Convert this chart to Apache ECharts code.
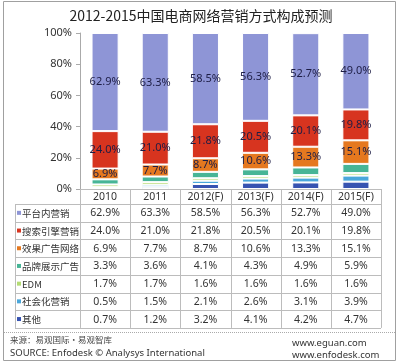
<!DOCTYPE html>
<html><head><meta charset="utf-8">
<script src="https://cdn.jsdelivr.net/npm/echarts@6/dist/echarts.min.js"></script>
<style>html,body{margin:0;padding:0;background:#fff}#c{width:400px;height:364px}</style>
</head><body><div id="c"></div>
<script>
var title = '2012-2015中国电商网络营销方式构成预测';
var categories = ['2010','2011','2012(F)','2013(F)','2014(F)','2015(F)'];
var seriesNames = ['平台内营销','搜索引擎营销','效果广告网络','品牌展示广告','EDM','社会化营销','其他'];
var platform = [62.9,63.3,58.5,56.3,52.7,49.0];
var search = [24.0,21.0,21.8,20.5,20.1,19.8];
var effect = [6.9,7.7,8.7,10.6,13.3,15.1];
var brand = [3.3,3.6,4.1,4.3,4.9,5.9];
var edm = [1.7,1.7,1.6,1.6,1.6,1.6];
var social = [0.5,1.5,2.1,2.6,3.1,3.9];
var other = [0.7,1.2,3.2,4.1,4.2,4.7];
var yTicks = [0,20,40,60,80,100];
var sourceCn = '来源：易观国际·易观智库';
var sourceEn = 'SOURCE: Enfodesk © Analysys International';
var site1 = 'www.eguan.com', site2 = 'www.enfodesk.com';

var values = [platform,search,effect,brand,edm,social,other];
var colors = ['#8e95d6','#d7341f','#e5781f','#47b596','#b4dc74','#4aa7db','#3753b1'];
var labelShown = [true,true,true,false,false,false,false];

var FONT = '"Noto Sans CJK SC","Noto Sans",sans-serif';
var LAT = '"Noto Sans","Noto Sans CJK SC",sans-serif';
var gridL = 80, gridR = 381, gridT = 33, gridB = 189;
var colW = (gridR - gridL) / categories.length;

var series = [];
for (var k = values.length - 1; k >= 0; k--) {
  series.push({
    name: seriesNames[k], type: 'bar', stack: 'all', barWidth: '54%',
    data: values[k],
    itemStyle: {color: colors[k], borderColor: '#fff', borderWidth: 1},
    label: {show: labelShown[k], position: 'inside', color: '#1d1d45', fontSize: 11, fontFamily: LAT,
      formatter: function(p){ return p.value.toFixed(1) + '%'; }},
    silent: true
  });
}

var g = [];
g.push({type:'rect', shape:{x:3.5,y:1.5,width:392,height:359}, style:{fill:'none', stroke:'#a0a0a0', lineWidth:1}, z:0});
g.push({type:'text', x:201, y:16, style:{text:title, fill:'#222', font:'14px '+FONT, textAlign:'center', textVerticalAlign:'middle'}});
var rowTop = 204, rowH = 17.7, nRows = seriesNames.length;
var tblBottom = rowTop + rowH * nRows;
for (var r = 0; r <= nRows; r++) {
  var yy = Math.round(rowTop + r * rowH) + 0.5;
  g.push({type:'line', shape:{x1:15, y1:yy, x2:gridR, y2:yy}, style:{stroke:'#bcbcbc', lineWidth:1}});
}
g.push({type:'line', shape:{x1:15.5, y1:rowTop, x2:15.5, y2:tblBottom}, style:{stroke:'#bcbcbc', lineWidth:1}});
for (var c = 0; c <= categories.length; c++) {
  var xx = Math.round(gridL + c * colW) + 0.5;
  g.push({type:'line', shape:{x1:xx, y1:gridB, x2:xx, y2:tblBottom}, style:{stroke:'#bcbcbc', lineWidth:1}});
}
for (var r = 0; r < nRows; r++) {
  var cy = rowTop + r * rowH + rowH / 2 + 0.5;
  g.push({type:'rect', shape:{x:17, y:cy-2.5, width:4, height:4}, style:{fill:colors[r]}});
  g.push({type:'text', x:22, y:cy, style:{text:seriesNames[r], fill:'#333', font:'9.5px '+FONT, textVerticalAlign:'middle'}});
  for (var c = 0; c < categories.length; c++) {
    g.push({type:'text', x:gridL + (c + 0.5) * colW, y:cy, style:{text:values[r][c].toFixed(1) + '%', fill:'#333', font:'10.5px '+LAT, textAlign:'center', textVerticalAlign:'middle'}});
  }
}
g.push({type:'line', shape:{x1:4, y1:332.5, x2:395, y2:332.5}, style:{stroke:'#aaa', lineWidth:1, lineDash:[1,1]}});
g.push({type:'text', x:10, y:340, style:{text:sourceCn, fill:'#444', font:'8.5px '+FONT, textVerticalAlign:'middle'}});
g.push({type:'text', x:10, y:353, style:{text:sourceEn, fill:'#333', font:'9.5px '+LAT, textVerticalAlign:'middle'}});
g.push({type:'text', x:292, y:343, style:{text:site1, fill:'#333', font:'9.5px '+LAT, textVerticalAlign:'middle'}});
g.push({type:'text', x:292, y:355, style:{text:site2, fill:'#333', font:'9.5px '+LAT, textVerticalAlign:'middle'}});

var chart = echarts.init(document.getElementById('c'), null, {renderer:'canvas'});
chart.setOption({
  animation: false,
  textStyle: {fontFamily: LAT},
  grid: {left: gridL, top: gridT, width: gridR - gridL, height: gridB - gridT, containLabel: false},
  xAxis: {type:'category', data: categories,
    axisLine:{show:true, lineStyle:{color:'#bcbcbc'}}, axisTick:{show:false},
    axisLabel:{color:'#333', fontSize:10.5, margin:3, fontFamily: LAT}},
  yAxis: {type:'value', min: yTicks[0], max: yTicks[yTicks.length-1], interval: yTicks[1]-yTicks[0],
    splitLine:{show:false},
    axisLine:{show:true, lineStyle:{color:'#aaa'}},
    axisTick:{show:true, inside:false, length:4, lineStyle:{color:'#aaa'}},
    axisLabel:{color:'#333', fontSize:11, margin:8, fontFamily: LAT, formatter:'{value}%'}},
  series: series,
  graphic: g
});
</script></body></html>
